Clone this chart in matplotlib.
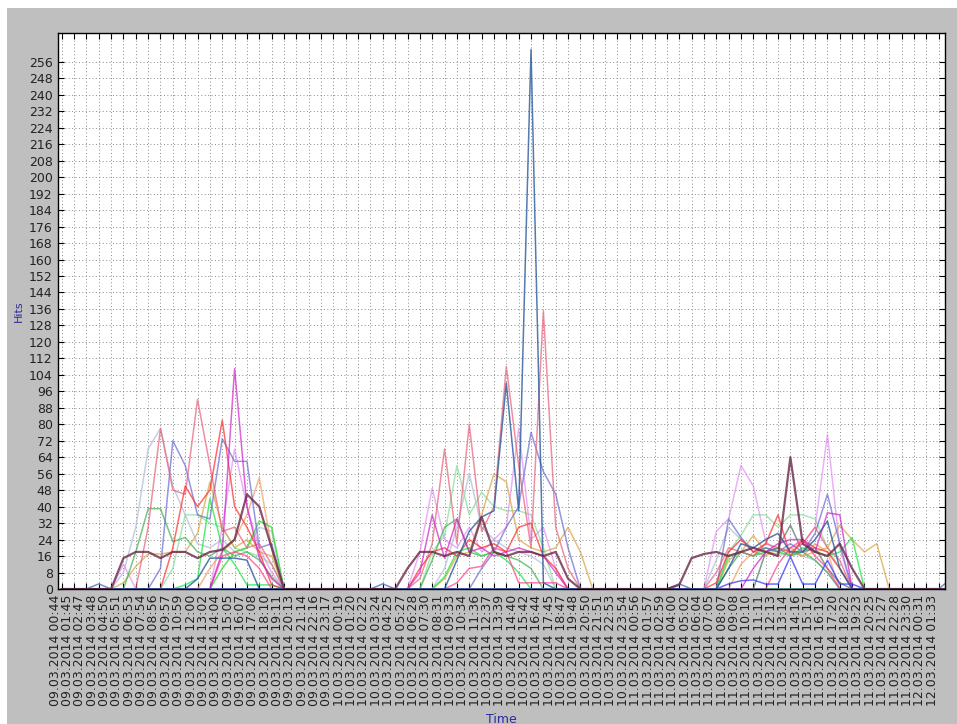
import numpy as np
import matplotlib
matplotlib.use('Agg')
import matplotlib.pyplot as plt
from matplotlib.patches import Rectangle

# tick labels (one per data bucket)
time_labels = [
    '09.03.2014 00:44', '09.03.2014 01:45', '09.03.2014 02:47', '09.03.2014 03:48',
    '09.03.2014 04:50', '09.03.2014 05:51', '09.03.2014 06:53', '09.03.2014 07:54',
    '09.03.2014 08:56', '09.03.2014 09:57', '09.03.2014 10:59', '09.03.2014 12:00',
    '09.03.2014 13:02', '09.03.2014 14:04', '09.03.2014 15:05', '09.03.2014 16:07',
    '09.03.2014 17:08', '09.03.2014 18:10', '09.03.2014 19:11', '09.03.2014 20:13',
    '09.03.2014 21:14', '09.03.2014 22:16', '09.03.2014 23:17', '10.03.2014 00:19',
    '10.03.2014 01:20', '10.03.2014 02:22', '10.03.2014 03:24', '10.03.2014 04:25',
    '10.03.2014 05:27', '10.03.2014 06:28', '10.03.2014 07:30', '10.03.2014 08:31',
    '10.03.2014 09:33', '10.03.2014 10:34', '10.03.2014 11:36', '10.03.2014 12:37',
    '10.03.2014 13:39', '10.03.2014 14:40', '10.03.2014 15:42', '10.03.2014 16:44',
    '10.03.2014 17:45', '10.03.2014 18:47', '10.03.2014 19:48', '10.03.2014 20:50',
    '10.03.2014 21:51', '10.03.2014 22:53', '10.03.2014 23:54', '11.03.2014 00:56',
    '11.03.2014 01:57', '11.03.2014 02:59', '11.03.2014 04:00', '11.03.2014 05:02',
    '11.03.2014 06:04', '11.03.2014 07:05', '11.03.2014 08:07', '11.03.2014 09:08',
    '11.03.2014 10:10', '11.03.2014 11:11', '11.03.2014 12:13', '11.03.2014 13:14',
    '11.03.2014 14:16', '11.03.2014 15:17', '11.03.2014 16:19', '11.03.2014 17:20',
    '11.03.2014 18:22', '11.03.2014 19:23', '11.03.2014 20:25', '11.03.2014 21:27',
    '11.03.2014 22:28', '11.03.2014 23:30', '12.03.2014 00:31', '12.03.2014 01:33',
]

# hits per bucket, 73 buckets each
hits_a = ([0,0,0,0,0,15,18,18,15,18,18,15,18,19,24,46,40,20,0,0,0,0,0,0]
          + [0,0,0,0,10,18,18,16,18,16,35,18,16,18,18,16,18,5,0,0,0,0,0,0]
          + [0,0,2,15,17,18,16,18,20,18,16,64,22,18,16,22,10,0,0,0,0,0,0,0,0])
hits_b = ([0,0,0,0,0,0,0,0,0,0,0,5,15,15,15,14,0,0,0,0,0,0,0,0]
          + [0,0,0,0,0,0,0,0,14,28,35,38,100,38,262,3,0,0,0,0,0,0,0,0]
          + [0,0,0,0,0,0,10,22,20,24,27,18,18,24,33,10,0,0,0,0,0,0,0,0,0])
hits_c = ([0,0,0,0,0,8,30,68,78,50,36,22,20,24,18,20,30,28,0,0,0,0,0,0]
          + [0,0,0,0,0,0,0,10,30,56,30,24,20,18,16,12,0,0,0,0,0,0,0,0]
          + [0,0,0,0,0,14,30,24,20,18,16,18,16,14,8,0,0,0,0,0,0,0,0,0,0])
hits_d = ([0,0,0,0,0,0,0,30,78,48,46,92,60,28,30,20,22,12,0,0,0,0,0,0]
          + [0,0,0,0,0,5,22,68,22,80,28,40,108,60,20,135,30,10,0,0,0,0,0,0]
          + [0,0,0,0,0,8,20,18,16,22,20,18,22,30,20,14,0,0,0,0,0,0,0,0,0])
hits_e = ([0,0,0,0,0,0,0,0,0,20,50,40,48,82,40,30,18,2,0,0,0,0,0,0]
          + [0,0,0,0,0,10,18,20,16,24,20,22,18,30,32,16,10,0,0,0,0,0,0,0]
          + [0,0,0,0,0,3,18,24,18,22,36,16,24,20,18,10,0,0,0,0,0,0,0,0,0])
hits_f = ([0,0,0,0,0,0,0,0,0,0,0,0,0,18,107,40,15,5,0,0,0,0,0,0]
          + [0,0,0,0,0,8,36,15,34,18,20,16,18,20,18,16,8,0,0,0,0,0,0,0]
          + [0,0,0,0,0,0,0,0,10,18,22,24,24,18,37,36,0,0,0,0,0,0,0,0,0])
hits_g = ([0,0,0,0,0,0,0,0,10,72,60,36,34,73,62,62,20,22,0,0,0,0,0,0]
          + [0,0,0,0,0,0,0,0,0,0,10,18,30,40,76,57,46,20,0,0,0,0,0,0]
          + [0,0,0,0,0,0,34,25,18,20,18,22,18,27,46,22,0,0,0,0,0,0,0,0,0])
hits_h = ([0,0,0,0,0,3,11,17,17,18,18,27,52,30,20,24,18,16,0,0,0,0,0,0]
          + [0,0,0,0,0,0,0,5,16,18,36,56,52,24,20,18,20,30,18,0,0,0,0,0]
          + [0,0,0,0,0,0,14,18,26,18,17,20,16,18,20,31,24,18,22,0,0,0,0,0,0])
hits_i = ([0,0,0,0,0,0,0,0,0,10,36,36,32,30,20,18,16,12,0,0,0,0,0,0]
          + [0,0,0,0,0,0,18,26,60,36,47,40,38,38,36,20,0,0,0,0,0,0,0,0]
          + [0,0,0,0,0,0,18,26,36,36,30,36,36,34,20,10,0,0,0,0,0,0,0,0,0])
hits_j = ([0,0,0,0,0,0,18,39,39,23,25,18,16,20,16,18,14,6,0,0,0,0,0,0]
          + [0,0,0,0,0,0,14,30,34,18,16,18,16,14,10,0,0,0,0,0,0,0,0,0]
          + [0,0,0,0,0,0,10,18,16,18,20,16,18,14,8,0,0,0,0,0,0,0,0,0,0])
hits_k = ([0,0,0,0,0,0,0,0,0,0,2,5,44,20,12,2,2,2,0,0,0,0,0,0]
          + [0,0,0,0,0,0,0,6,18,20,16,18,14,8,0,0,0,0,0,0,0,0,0,0]
          + [0,0,0,0,0,0,16,18,16,20,18,16,20,18,16,18,25,0,0,0,0,0,0,0,0])
hits_l = ([0,0,0,0,0,0,0,0,0,0,0,0,0,10,18,20,33,30,0,0,0,0,0,0]
          + [0] * 24
          + [0] * 25)
hits_m = ([0,0,0,0,0,12,0,0,0,0,0,0,0,30,68,40,20,8,0,0,0,0,0,0]
          + [0,0,0,0,0,18,49,24,20,30,18,24,30,78,24,30,10,0,0,0,0,0,0,0]
          + [0,0,0,0,0,28,34,60,50,23,18,20,22,30,75,20,0,0,0,0,0,0,0,0,0])
hits_n = ([0,0,0,0,0,0,0,0,0,0,0,0,0,16,18,16,10,0,0,0,0,0,0,0]
          + [0,0,0,0,0,0,0,0,3,10,11,20,18,3,3,3,3,0,0,0,0,0,0,0]
          + [0,0,0,0,0,0,0,0,0,0,12,20,24,16,10,0,0,0,0,0,0,0,0,0,0])
hits_o = ([0] * 24
          + [0] * 24
          + [0,0,0,0,0,0,2.5,4,4.4,2.4,2.4,15.7,2.4,2.4,14,2.4,2.4,0,0,0,0,0,0,0,0])
hits_p = ([0,0,0,2.5,0,0,0,0,0,0,0,0,0,0,0,0,0,0,0,0,0,0,0,0]
          + [0,0,2.5,0,0,0,0,0,0,0,0,0,0,0,0,0,0,0,0,0,0,0,0,0]
          + [0,0,2.5,0,0,0,0,0,0,0,0,0,0,0,0,0,0,0,0,0,0,0,0,0,5])
hits_q = ([0] * 24
          + [0] * 24
          + [0,0,0,0,0,0,0,0,0,18,20,31,18,20,10,3,0,0,0,0,0,0,0,0,0])
hits_r = ([0,0,0,0,0,0,0,0,0,0,0,0,10,18,24,36,54,20,0,0,0,0,0,0]
          + [0] * 24
          + [0,0,0,0,0,0,0,12,18,16,20,18,16,22,18,0,0,0,0,0,0,0,0,0,0])

# (values, colour, linewidth, alpha) - drawn in this order
series = [
    (hits_c, '#b4c0d6', 1.1, 0.75),
    (hits_i, '#8ee0a0', 1.1, 0.75),
    (hits_m, '#e07cf2', 1.1, 0.6),
    (hits_r, '#f29a62', 1.1, 0.7),
    (hits_h, '#d9a441', 1.1, 0.7),
    (hits_j, '#3fae4f', 1.1, 0.7),
    (hits_l, '#22dd22', 1.1, 0.75),
    (hits_k, '#22e84a', 1.1, 0.75),
    (hits_q, '#5d7a6a', 1.1, 0.75),
    (hits_g, '#6a6ad0', 1.1, 0.7),
    (hits_d, '#e8607a', 1.1, 0.7),
    (hits_n, '#ff3d8b', 1.1, 0.7),
    (hits_e, '#ff2a2a', 1.1, 0.7),
    (hits_f, '#d020c8', 1.1, 0.7),
    (hits_o, '#3a3aff', 1.1, 0.75),
    (hits_p, '#5a7fc0', 1.1, 0.85),
    (hits_b, '#2a5a9a', 1.1, 0.8),
    (hits_a, '#6b2848', 1.6, 0.8),
]

fig = plt.figure(figsize=(9.57, 7.24), dpi=100, facecolor='#bfbfbf')
# white strip at top and left of the screenshot
fig.add_artist(Rectangle((0, 1 - 8 / 724), 1, 8 / 724, transform=fig.transFigure,
                         facecolor='white', edgecolor='none', zorder=-1))
fig.add_artist(Rectangle((0, 0), 7 / 957, 1, transform=fig.transFigure,
                         facecolor='white', edgecolor='none', zorder=-1))

ax = fig.add_axes([58.3 / 957, 135 / 724, 886.7 / 957, 556 / 724])
ax.set_facecolor('white')

for vals, color, lw, alpha in series:
    ax.plot(np.arange(len(vals)), vals, color=color, linewidth=lw, alpha=alpha)

ax.set_xlim(-0.275, 71.52)
ax.set_ylim(0, 270)
ax.set_yticks(np.arange(0, 257, 8))
ax.set_xticks(np.arange(len(time_labels)))
ax.set_xticklabels(time_labels, rotation=90, ha='right')

ax.tick_params(direction='in', top=True, right=True, length=4, width=0.8,
               labelsize=9, pad=4, colors='black')
ax.tick_params(labelcolor='#222222')
ax.grid(True, linestyle=(0, (1, 2.5)), color='#8a8a8a', linewidth=0.7)
ax.set_axisbelow(True)
for sp in ax.spines.values():
    sp.set_linewidth(1.0)

ax.set_ylabel('Hits', fontsize=8, color='#2b2b9b')
ax.yaxis.set_label_coords(-0.0445, 0.5)
ax.yaxis.label.set_va('center')
ax.set_xlabel('Time', fontsize=9, color='#2b2b9b')
ax.xaxis.set_label_coords(0.5, -0.234)
ax.xaxis.label.set_va('center')

fig.savefig('out.png', dpi=100, facecolor=fig.get_facecolor())
